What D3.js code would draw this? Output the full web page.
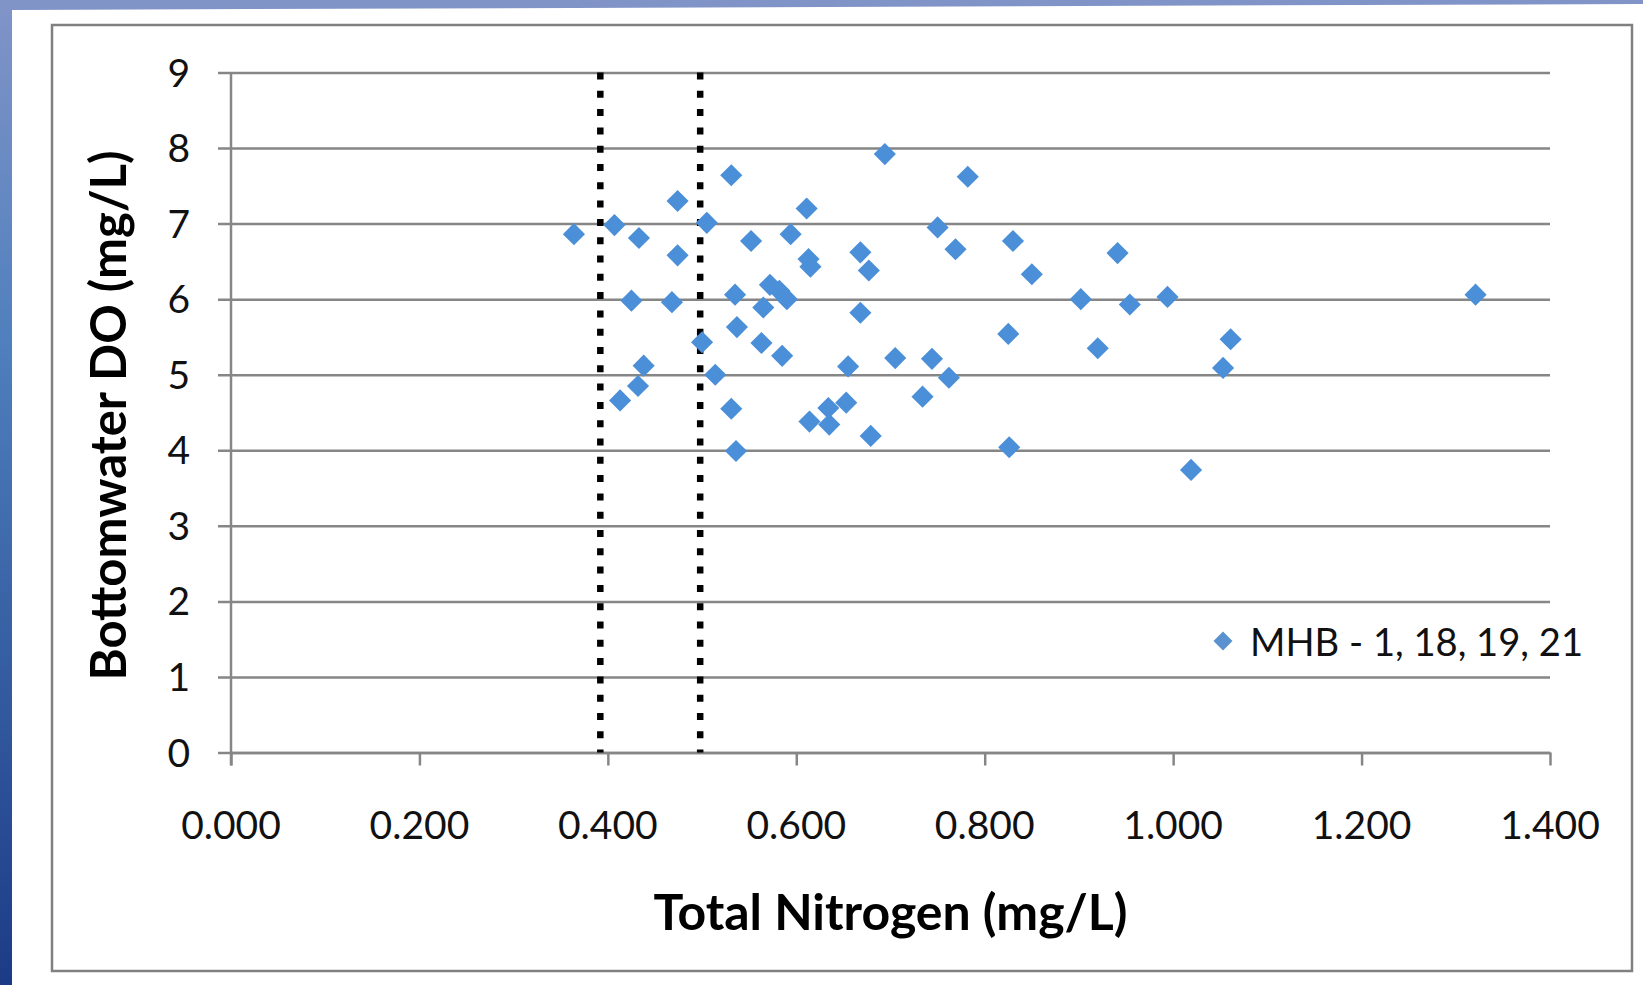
<!DOCTYPE html>
<html>
<head>
<meta charset="utf-8">
<script src="https://cdn.jsdelivr.net/npm/d3@7"></script>
<style>
  html, body { margin: 0; padding: 0; background: #ffffff; }
  svg { display: block; }
  .tick-label { font-family: Lato, "Open Sans", sans-serif; font-size: 39px; fill: #111; }
  .title { font-family: Lato, "Open Sans", sans-serif; font-size: 49px; font-weight: bold; fill: #000; }
</style>
</head>
<body>
<div id="chart"></div>
<script>
// Total Nitrogen (mg/L) vs Bottomwater DO (mg/L), MHB - 1, 18, 19, 21
let tnValues = [0.364, 0.407, 0.433, 0.474, 0.474, 0.425, 0.468, 0.438, 0.432, 0.413,
    0.505, 0.500, 0.514, 0.531, 0.535, 0.537, 0.531, 0.536, 0.552, 0.594,
    0.611, 0.572, 0.582, 0.590, 0.565, 0.563, 0.585, 0.613, 0.615, 0.614,
    0.668, 0.677, 0.750, 0.769, 0.830, 0.850, 0.668, 0.825, 0.655, 0.705,
    0.744, 0.762, 0.734, 0.653, 0.634, 0.635, 0.679, 0.826, 0.694, 0.782,
    0.941, 0.902, 0.954, 0.994, 0.920, 1.061, 1.053, 1.019, 1.321];
let doValues = [6.86, 6.98, 6.81, 7.30, 6.58, 5.98, 5.96, 5.12, 4.85, 4.66,
    7.01, 5.43, 5.00, 7.64, 6.06, 5.63, 4.55, 3.99, 6.77, 6.86,
    7.20, 6.19, 6.11, 6.00, 5.89, 5.42, 5.25, 6.53, 6.43, 4.38,
    6.62, 6.38, 6.95, 6.66, 6.77, 6.33, 5.82, 5.54, 5.11, 5.22,
    5.21, 4.96, 4.71, 4.63, 4.56, 4.34, 4.19, 4.04, 7.92, 7.62,
    6.61, 6.00, 5.93, 6.03, 5.35, 5.47, 5.09, 3.74, 6.06];
let xTicks = [0, 0.2, 0.4, 0.6, 0.8, 1.0, 1.2, 1.4];
let yTicks = [0, 1, 2, 3, 4, 5, 6, 7, 8, 9];
// dotted reference lines (TN thresholds)
let thresholds = [0.392, 0.498];
let seriesName = "MHB - 1, 18, 19, 21";

let width = 1643, height = 985;
let plot = {left: 231, right: 1550, top: 72.5, bottom: 752.5};
let pointColor = "#4a8fd8";
let gridColor = "#868686";

let svg = d3.select("#chart").append("svg")
    .attr("width", width)
    .attr("height", height);

// slide background (blue) with white panel
let defs = svg.append("defs");
let grad = defs.append("linearGradient")
    .attr("id", "bg")
    .attr("x1", 0).attr("y1", 0).attr("x2", 0).attr("y2", 1);
grad.append("stop").attr("offset", "0%").attr("stop-color", "#8194c8");
grad.append("stop").attr("offset", "35%").attr("stop-color", "#4f7fbd");
grad.append("stop").attr("offset", "100%").attr("stop-color", "#1c3b86");

svg.append("rect")
    .attr("width", width)
    .attr("height", height)
    .attr("fill", "url(#bg)");

svg.append("polygon")
    .attr("points", "12,10 " + width + ",4 " + width + "," + height + " 12," + height)
    .attr("fill", "#ffffff");

// chart border
svg.append("rect")
    .attr("x", 52)
    .attr("y", 25)
    .attr("width", 1580)
    .attr("height", 946)
    .attr("fill", "#ffffff")
    .attr("stroke", "#808080")
    .attr("stroke-width", 2.5);

let x = d3.scaleLinear()
    .domain([0, 1.4])
    .range([plot.left, plot.right]);

let y = d3.scaleLinear()
    .domain([0, 9])
    .range([plot.bottom, plot.top]);

// horizontal gridlines + y ticks
let yAxis = svg.append("g")
    .attr("transform", "translate(" + plot.left + ",0)")
    .call(d3.axisLeft(y)
        .tickValues(yTicks)
        .tickSize(-(plot.right - plot.left))
        .tickSizeOuter(0)
        .tickPadding(0)
        .tickFormat(""));
yAxis.select(".domain").remove();
yAxis.selectAll(".tick line")
    .attr("x1", -13)
    .attr("stroke", gridColor)
    .attr("stroke-width", 2.5);

svg.selectAll(".ylabel")
    .data(yTicks)
    .enter()
    .append("text")
    .attr("class", "tick-label ylabel")
    .attr("x", 190)
    .attr("y", d => y(d) + 14)
    .attr("text-anchor", "end")
    .text(d => d);

// y axis line
svg.append("line")
    .attr("x1", plot.left).attr("x2", plot.left)
    .attr("y1", plot.top).attr("y2", plot.bottom + 13)
    .attr("stroke", gridColor)
    .attr("stroke-width", 2.5);

// x axis
let xAxis = svg.append("g")
    .attr("transform", "translate(0," + plot.bottom + ")")
    .call(d3.axisBottom(x)
        .tickValues(xTicks)
        .tickSize(13)
        .tickSizeOuter(0)
        .tickFormat(""));
xAxis.select(".domain")
    .attr("stroke", gridColor)
    .attr("stroke-width", 2.5);
xAxis.selectAll(".tick line")
    .attr("stroke", gridColor)
    .attr("stroke-width", 2.5);

svg.selectAll(".xlabel")
    .data(xTicks)
    .enter()
    .append("text")
    .attr("class", "tick-label xlabel")
    .attr("x", d => x(d))
    .attr("y", plot.bottom + 86)
    .attr("text-anchor", "middle")
    .text(d => d3.format(".3f")(d));

// dotted threshold lines
svg.selectAll(".threshold")
    .data(thresholds)
    .enter()
    .append("line")
    .attr("class", "threshold")
    .attr("x1", d => x(d)).attr("x2", d => x(d))
    .attr("y1", y(9)).attr("y2", y(0))
    .attr("stroke", "#000")
    .attr("stroke-width", 6.5)
    .attr("stroke-dasharray", "7, 11.3");

// points
let diamond = d3.symbol().type(d3.symbolSquare).size(245);
let points = tnValues.map((v, i) => ({tn: v, dox: doValues[i]}));
svg.selectAll(".dot")
    .data(points)
    .enter()
    .append("path")
    .attr("class", "dot")
    .attr("d", diamond)
    .attr("transform", d => "translate(" + x(d.tn) + "," + y(d.dox) + ") rotate(45)")
    .attr("fill", pointColor);

// legend
svg.append("path")
    .attr("d", d3.symbol().type(d3.symbolSquare).size(180))
    .attr("transform", "translate(1223,641) rotate(45)")
    .attr("fill", "#5a91cf");
svg.append("text")
    .attr("class", "tick-label")
    .attr("x", 1250)
    .attr("y", 656)
    .style("font-size", "38px")
    .attr("textLength", 333)
    .attr("lengthAdjust", "spacingAndGlyphs")
    .text(seriesName);

// axis titles
svg.append("text")
    .attr("class", "title")
    .attr("x", (plot.left + plot.right) / 2)
    .attr("y", 930)
    .attr("text-anchor", "middle")
    .attr("textLength", 474)
    .attr("lengthAdjust", "spacingAndGlyphs")
    .text("Total Nitrogen (mg/L)");

svg.append("text")
    .attr("class", "title")
    .attr("transform", "translate(126," + ((plot.top + plot.bottom) / 2 + 3) + ") rotate(-90)")
    .attr("text-anchor", "middle")
    .attr("textLength", 530)
    .attr("lengthAdjust", "spacingAndGlyphs")
    .text("Bottomwater DO (mg/L)");
</script>
</body>
</html>
